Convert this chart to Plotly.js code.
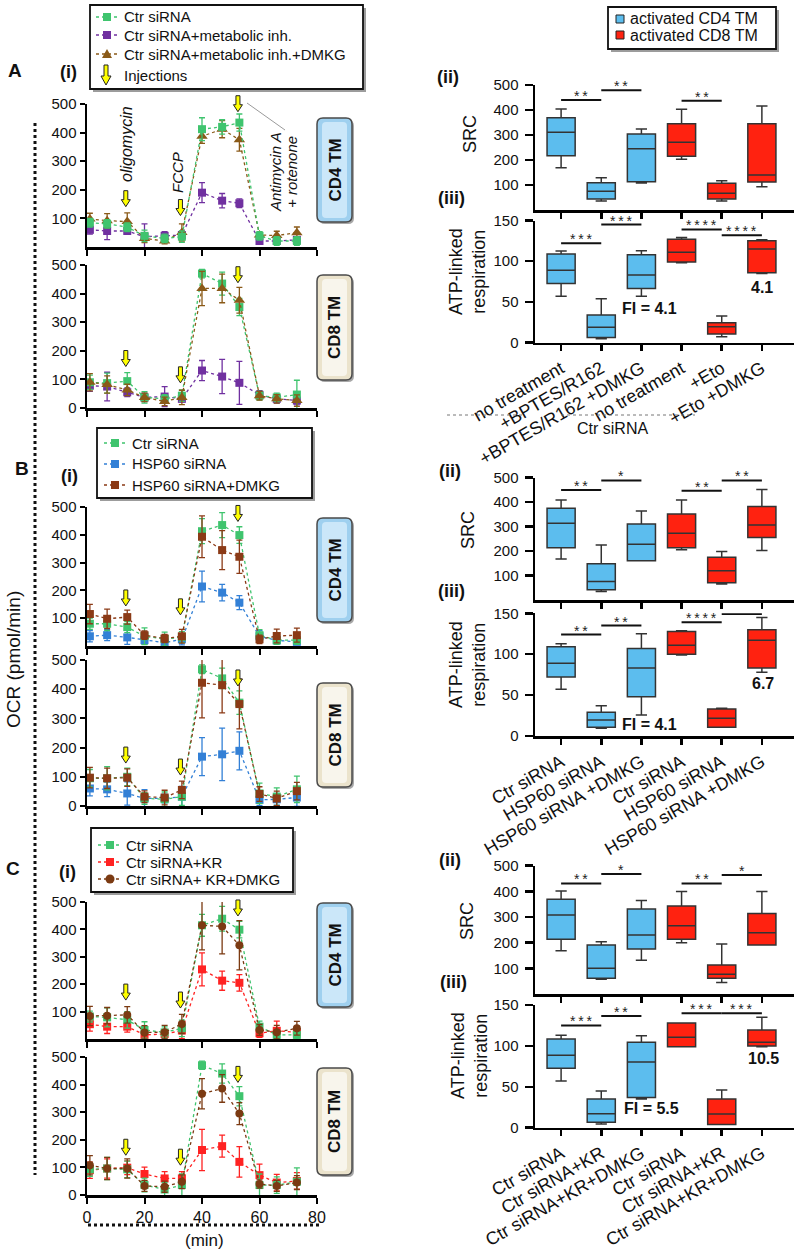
<!DOCTYPE html>
<html><head><meta charset="utf-8">
<script src="https://cdn.plot.ly/plotly-3.0.1.min.js"></script>
<style>html,body{margin:0;padding:0;background:#fff;}#chart{width:794px;height:1250px;}</style>
</head><body><div id="chart"></div>
<script>
// ================= DATA =================
const timeMin = [1, 7, 14, 20, 27, 33, 40, 47, 53, 60, 66, 73];
const injectionTimes = [13.5, 32.5, 52.5];
const injectionLabels = ["oligomycin", "FCCP", "Antimycin A", "+ rotenone"];

// A (i)  CD4 TM
const A_CD4_ctr      = [85, 81, 69, 39, 30, 36, 412, 420, 435, 39, 21, 21];
const A_CD4_ctr_err  = [15, 15, 15, 20, 15, 20, 40, 25, 30, 15, 15, 15];
const A_CD4_inh      = [60, 56, 56, 36, 39, 42, 190, 162, 153, 21, 21, 25];
const A_CD4_inh_err  = [15, 30, 12, 45, 15, 12, 35, 25, 15, 10, 10, 10];
const A_CD4_dmkg     = [98, 92, 89, 30, 21, 51, 387, 412, 375, 42, 40, 50];
const A_CD4_dmkg_err = [20, 25, 30, 15, 10, 30, 25, 30, 40, 10, 15, 20];
// A (i)  CD8 TM
const A_CD8_ctr      = [90, 87, 94, 37, 32, 43, 470, 435, 353, 43, 37, 47];
const A_CD8_ctr_err  = [25, 35, 30, 20, 15, 20, 15, 40, 30, 15, 15, 50];
const A_CD8_inh      = [78, 75, 55, 37, 40, 32, 131, 110, 88, 46, 32, 26];
const A_CD8_inh_err  = [20, 50, 15, 15, 35, 10, 35, 60, 75, 15, 15, 15];
const A_CD8_dmkg     = [90, 82, 63, 37, 23, 37, 418, 418, 377, 43, 32, 26];
const A_CD8_dmkg_err = [30, 30, 20, 15, 15, 25, 60, 50, 45, 15, 15, 20];
// B (i)  CD4 TM
const B_CD4_ctr      = [80, 80, 68, 35, 25, 32, 413, 435, 399, 39, 21, 21];
const B_CD4_ctr_err  = [20, 25, 20, 30, 25, 20, 45, 45, 30, 20, 15, 15];
const B_CD4_hsp      = [35, 39, 31, 21, 12, 24, 214, 192, 156, 35, 20, 15];
const B_CD4_hsp_err  = [20, 20, 25, 15, 10, 20, 55, 30, 25, 20, 10, 10];
const B_CD4_dmkg     = [115, 98, 104, 39, 27, 35, 393, 345, 321, 24, 36, 39];
const B_CD4_dmkg_err = [35, 35, 25, 15, 15, 25, 75, 70, 60, 15, 25, 25];
// B (i)  CD8 TM
const B_CD8_ctr      = [95, 95, 100, 26, 23, 32, 468, 437, 354, 43, 32, 57];
const B_CD8_ctr_err  = [30, 40, 30, 20, 25, 30, 15, 35, 40, 35, 30, 45];
const B_CD8_hsp      = [60, 57, 43, 26, 26, 32, 169, 177, 189, 21, 23, 29];
const B_CD8_hsp_err  = [25, 25, 40, 30, 15, 35, 65, 90, 65, 20, 20, 30];
const B_CD8_dmkg     = [97, 95, 97, 32, 29, 55, 422, 414, 349, 41, 26, 51];
const B_CD8_dmkg_err = [35, 35, 30, 20, 25, 30, 120, 95, 85, 25, 25, 30];
// C (i)  CD4 TM
const C_CD4_ctr      = [82, 79, 70, 33, 24, 39, 415, 439, 399, 45, 15, 15];
const C_CD4_ctr_err  = [20, 35, 30, 30, 20, 30, 40, 45, 30, 20, 15, 15];
const C_CD4_kr       = [54, 45, 45, 15, 18, 31, 254, 213, 205, 21, 30, 24];
const C_CD4_kr_err   = [25, 25, 20, 10, 15, 30, 60, 35, 30, 15, 35, 20];
const C_CD4_dmkg     = [84, 85, 88, 24, 25, 55, 415, 411, 342, 33, 25, 39];
const C_CD4_dmkg_err = [35, 30, 30, 25, 25, 35, 90, 100, 90, 20, 25, 25];
// C (i)  CD8 TM
const C_CD8_ctr      = [93, 96, 93, 36, 20, 36, 470, 440, 358, 36, 36, 48];
const C_CD8_ctr_err  = [25, 40, 30, 25, 25, 40, 15, 35, 35, 40, 30, 50];
const C_CD8_kr       = [90, 96, 99, 76, 60, 60, 163, 177, 120, 72, 45, 51];
const C_CD8_kr_err   = [30, 35, 25, 25, 25, 25, 75, 40, 55, 40, 30, 30];
const C_CD8_dmkg     = [108, 96, 96, 33, 30, 48, 367, 386, 295, 40, 33, 45];
const C_CD8_dmkg_err = [35, 40, 35, 20, 20, 25, 55, 50, 40, 15, 20, 25];

// injection-arrow tip levels (OCR units) per panel
const arrowTips_A_CD4 = [141, 110, 473];
const arrowTips_A_CD8 = [145, 88, 438];
const arrowTips_B_CD4 = [144, 112, 448];
const arrowTips_B_CD8 = [147, 106, 411];
const arrowTips_C_CD4 = [142, 113, 449];
const arrowTips_C_CD8 = [144, 108, 408];

const legendA = ["Ctr siRNA", "Ctr siRNA+metabolic inh.", "Ctr siRNA+metabolic inh.+DMKG", "Injections"];
const legendB = ["Ctr siRNA", "HSP60 siRNA", "HSP60 siRNA+DMKG"];
const legendC = ["Ctr siRNA", "Ctr siRNA+KR", "Ctr siRNA+ KR+DMKG"];
const cellLegend = ["activated CD4 TM", "activated CD8 TM"];

// box plot categories (positions 0..5)
const catsA = ["no treatment", "+BPTES/R162", "+BPTES/R162 +DMKG", "no treatment", "+Eto", "+Eto +DMKG"];
const catsB = ["Ctr siRNA", "HSP60 siRNA", "HSP60 siRNA +DMKG", "Ctr siRNA", "HSP60 siRNA", "HSP60 siRNA +DMKG"];
const catsC = ["Ctr siRNA", "Ctr siRNA+KR", "Ctr siRNA+KR+DMKG", "Ctr siRNA", "Ctr siRNA+KR", "Ctr siRNA+KR+DMKG"];
const posCD4 = [0, 1, 2];
const posCD8 = [3, 4, 5];

// SRC box stats
const A_SRC_CD4 = {lo:[169,36,108], q1:[217,44,113], med:[311,75,245], q3:[369,109,304], hi:[404,129,324]};
const A_SRC_CD8 = {lo:[203,36,93],  q1:[215,44,112], med:[271,67,140], q3:[345,107,345], hi:[403,117,416]};
const B_SRC_CD4 = {lo:[168,35,160], q1:[214,42,160], med:[314,76,228], q3:[375,148,311], hi:[409,225,364]};
const B_SRC_CD8 = {lo:[205,65,202], q1:[214,71,256], med:[273,120,307], q3:[352,175,382], hi:[409,198,452]};
const C_SRC_CD4 = {lo:[169,57,132], q1:[213,61,175], med:[308,100,230], q3:[369,191,331], hi:[401,204,364]};
const C_SRC_CD8 = {lo:[200,45,191], q1:[213,61,191], med:[266,77,239], q3:[343,113,314], hi:[399,195,399]};
// ATP-linked respiration box stats
const A_ATP_CD4 = {lo:[57,5,57],     q1:[72.6,6.5,66.5], med:[89,19,83],     q3:[109,34,108],   hi:[112.6,54,113]};
const A_ATP_CD8 = {lo:[98,7.3,85],   q1:[99,10.6,86],    med:[111,19.6,115], q3:[127,24.5,125], hi:[129,32.7,126.5]};
const B_ATP_CD4 = {lo:[57,9.4,25.7], q1:[72,10.6,48],    med:[89,19.6,83],   q3:[109,29,107],   hi:[112.7,37,125]};
const B_ATP_CD8 = {lo:[99,10.6,78],  q1:[100,10.6,83],   med:[111,21.6,117], q3:[127.8,33,130], hi:[128.6,34,145]};
const C_ATP_CD4 = {lo:[57,4.5,35],   q1:[72.6,6.6,37],   med:[88.5,17,80.3], q3:[108.4,35,104.4], hi:[113,44.8,112.5]};
const C_ATP_CD8 = {lo:[99,4,99],     q1:[99,4,100],      med:[110.5,16.7,104.4], q3:[128,35,119.4], hi:[128,46,135]};

// significance brackets [fromPos, toPos, level, stars]
const sigA_SRC = [[0,1,440,"**"],[1,2,479,"**"],[3,4,437,"**"]];
const sigA_ATP = [[0,1,122,"***"],[1,2,145,"***"],[3,4,139,"****"],[4,5,132,"****"]];
const sigB_SRC = [[0,1,450,"**"],[1,2,489,"*"],[3,4,447,"**"],[4,5,489,"**"]];
const sigB_ATP = [[0,1,124,"**"],[1,2,135,"**"],[3,4,139,"****"],[4,5,149,""]];
const sigC_SRC = [[0,1,431,"**"],[1,2,468,"*"],[3,4,431,"**"],[4,5,464,"*"]];
const sigC_ATP = [[0,1,125,"***"],[1,2,136.5,"**"],[3,4,140,"***"],[4,5,140,"***"]];
// fold-increase labels [pos, level, text]
const fiA = [[2.2, 42, "FI = 4.1"], [5.0, 68, "4.1"]];
const fiB = [[2.2, 13.5, "FI = 4.1"], [5.03, 64, "6.7"]];
const fiC = [[2.25, 23, "FI = 5.5"], [5.03, 84, "10.5"]];

// ================= STYLE / LAYOUT =================
const W = 794, H = 1250;
const fx = p => p / W;
const fy = p => 1 - p / H;
const FONT = 'Liberation Sans, Arial, Helvetica, sans-serif';
const GREEN = '#3fc46e', PURPLE = '#7030a0', BROWN_T = '#8a5a18', BLUE = '#3380d6',
      BROWN_S = '#8b3a16', RED = '#ff2222', BROWN_C = '#7b3a12';
const BOX_BLUE = '#5cbdee', BOX_RED = '#ff2210';

const traces = [], shapes = [], annotations = [];
const layout = {
  width: W, height: H, margin: {l:0, r:0, t:0, b:0, pad:0},
  paper_bgcolor: '#fff', plot_bgcolor: 'rgba(0,0,0,0)', showlegend: false,
  font: {family: FONT, color: '#111'}, shapes, annotations
};
const axId = (l, i) => i === 1 ? l : l + i;
const axName = (l, i) => i === 1 ? l + 'axis' : l + 'axis' + i;

function txt(x, y, text, o) {
  o = o || {};
  annotations.push(Object.assign({
    xref: 'paper', yref: 'paper', x: fx(x), y: fy(y), text: text, showarrow: false,
    xanchor: 'center', yanchor: 'middle',
    font: {family: FONT, size: o.size || 15, color: o.color || '#111', weight: o.weight || 'normal', style: o.style || 'normal'}
  }, o.extra || {}));
}
function pline(x0, y0, x1, y1, color, width, dash) {
  shapes.push({type: 'line', xref: 'paper', yref: 'paper', x0: fx(x0), y0: fy(y0), x1: fx(x1), y1: fy(y1),
    line: {color: color, width: width, dash: dash || 'solid'}, layer: 'above'});
}
function prect(x0, y0, x1, y1, fill, lineColor, lw) {
  shapes.push({type: 'rect', xref: 'paper', yref: 'paper', x0: fx(x0), y0: fy(y0), x1: fx(x1), y1: fy(y1),
    fillcolor: fill, line: {color: lineColor || fill, width: lw || 0}, layer: 'above'});
}
function ppath(pts, fill, lineColor, lw) {
  const d = pts.map((p, k) => (k ? 'L' : 'M') + fx(p[0]) + ',' + fy(p[1])).join(' ') + ' Z';
  shapes.push({type: 'path', xref: 'paper', yref: 'paper', path: d, fillcolor: fill,
    line: {color: lineColor || fill, width: lw || 0}, layer: 'above'});
}
function roundRect(x0, y0, x1, y1, r) {
  const X = fx, Y = fy;
  return `M${X(x0+r)},${Y(y0)} L${X(x1-r)},${Y(y0)} Q${X(x1)},${Y(y0)} ${X(x1)},${Y(y0+r)} ` +
         `L${X(x1)},${Y(y1-r)} Q${X(x1)},${Y(y1)} ${X(x1-r)},${Y(y1)} L${X(x0+r)},${Y(y1)} ` +
         `Q${X(x0)},${Y(y1)} ${X(x0)},${Y(y1-r)} L${X(x0)},${Y(y0+r)} Q${X(x0)},${Y(y0)} ${X(x0+r)},${Y(y0)} Z`;
}
const ARROW_PATH = 'M-2,16 L2,16 L2,7 L4.5,7 L0,0 L-4.5,7 L-2,7 Z';

// ---------- left: OCR kinetics ----------
const stylesA = [{c: GREEN, s: 'square'}, {c: PURPLE, s: 'square'}, {c: BROWN_T, s: 'triangle-up'}];
const stylesB = [{c: GREEN, s: 'square'}, {c: BLUE, s: 'square'}, {c: BROWN_S, s: 'square'}];
const stylesC = [{c: GREEN, s: 'square'}, {c: RED, s: 'square'}, {c: BROWN_C, s: 'circle'}];

const leftPanels = [
  {top: 104, bot: 247, zero: false, xlab: false, tag: 'CD4 TM', cd4: true, tagY: [118, 222], tips: arrowTips_A_CD4, st: stylesA,
   ser: [[A_CD4_ctr, A_CD4_ctr_err], [A_CD4_inh, A_CD4_inh_err], [A_CD4_dmkg, A_CD4_dmkg_err]], order: [1, 2, 0]},
  {top: 265, bot: 408, zero: true, xlab: false, tag: 'CD8 TM', cd4: false, tagY: [275, 380], tips: arrowTips_A_CD8, st: stylesA,
   ser: [[A_CD8_ctr, A_CD8_ctr_err], [A_CD8_inh, A_CD8_inh_err], [A_CD8_dmkg, A_CD8_dmkg_err]], order: [1, 0, 2]},
  {top: 507, bot: 646, zero: false, xlab: false, tag: 'CD4 TM', cd4: true, tagY: [518, 622], tips: arrowTips_B_CD4, st: stylesB,
   ser: [[B_CD4_ctr, B_CD4_ctr_err], [B_CD4_hsp, B_CD4_hsp_err], [B_CD4_dmkg, B_CD4_dmkg_err]], order: [1, 0, 2]},
  {top: 660, bot: 806, zero: true, xlab: false, tag: 'CD8 TM', cd4: false, tagY: [683, 787], tips: arrowTips_B_CD8, st: stylesB,
   ser: [[B_CD8_ctr, B_CD8_ctr_err], [B_CD8_hsp, B_CD8_hsp_err], [B_CD8_dmkg, B_CD8_dmkg_err]], order: [1, 0, 2]},
  {top: 902, bot: 1039, zero: false, xlab: false, tag: 'CD4 TM', cd4: true, tagY: [903, 1007], tips: arrowTips_C_CD4, st: stylesC,
   ser: [[C_CD4_ctr, C_CD4_ctr_err], [C_CD4_kr, C_CD4_kr_err], [C_CD4_dmkg, C_CD4_dmkg_err]], order: [1, 0, 2]},
  {top: 1057, bot: 1195, zero: true, xlab: true, tag: 'CD8 TM', cd4: false, tagY: [1068, 1175], tips: arrowTips_C_CD8, st: stylesC,
   ser: [[C_CD8_ctr, C_CD8_ctr_err], [C_CD8_kr, C_CD8_kr_err], [C_CD8_dmkg, C_CD8_dmkg_err]], order: [1, 0, 2]}
];

leftPanels.forEach((p, k) => {
  const i = k + 1;
  layout[axName('x', i)] = {
    domain: [fx(87), fx(317)], range: [0, 80], anchor: axId('y', i), tickvals: [0, 20, 40, 60, 80],
    ticks: 'outside', ticklen: 6, tickwidth: 2, tickcolor: '#000', showline: true, linewidth: 2.5, linecolor: '#000',
    showgrid: false, zeroline: false, showticklabels: p.xlab, tickfont: {family: FONT, size: 16, color: '#111'},
    fixedrange: true, automargin: false
  };
  layout[axName('y', i)] = {
    domain: [fy(p.bot), fy(p.top)], range: [0, 500], anchor: axId('x', i),
    tickvals: p.zero ? [0, 100, 200, 300, 400, 500] : [100, 200, 300, 400, 500],
    ticks: 'outside', ticklen: 5, tickwidth: 2, tickcolor: '#000', showline: true, linewidth: 2.5, linecolor: '#000',
    showgrid: false, zeroline: false, tickfont: {family: FONT, size: 15, color: '#111'}, fixedrange: true, automargin: false
  };
  p.order.forEach(j => {
    const st = p.st[j];
    traces.push({
      type: 'scatter', mode: 'lines+markers', x: timeMin, y: p.ser[j][0],
      xaxis: axId('x', i), yaxis: axId('y', i),
      line: {color: st.c, width: 1.3, dash: 'dot'},
      marker: {symbol: st.s, size: st.s === 'triangle-up' ? 10 : 8, color: st.c},
      error_y: {type: 'data', array: p.ser[j][1], visible: true, color: st.c, thickness: 1.3, width: 3},
      hoverinfo: 'skip'
    });
  });
  // injection arrows
  injectionTimes.forEach((t, a) => {
    shapes.push({type: 'path', xref: axId('x', i), yref: axId('y', i) + ' domain',
      xsizemode: 'pixel', ysizemode: 'pixel', xanchor: t, yanchor: p.tips[a] / 500,
      path: ARROW_PATH, fillcolor: '#ffff00', line: {color: '#222', width: 1}, layer: 'above'});
  });
  // CD4 / CD8 tag
  const x0 = 317, x1 = 352, y0 = p.tagY[0], y1 = p.tagY[1];
  shapes.push({type: 'path', xref: 'paper', yref: 'paper', path: roundRect(x0 + 2, y0 + 2, x1 + 2, y1 + 2, 6),
    fillcolor: '#a8a8a8', line: {width: 0}, layer: 'above'});
  shapes.push({type: 'path', xref: 'paper', yref: 'paper', path: roundRect(x0, y0, x1, y1, 6),
    fillcolor: p.cd4 ? '#9fd0ef' : '#ebe3cc', line: {color: '#4a4a4a', width: 1.5}, layer: 'above'});
  shapes.push({type: 'path', xref: 'paper', yref: 'paper', path: roundRect(x0 + 5, y0 + 4, x1 - 5, y1 - 4, 4),
    fillcolor: p.cd4 ? '#cbe7f9' : '#f8f5ec', line: {width: 0}, layer: 'above'});
  txt((x0 + x1) / 2, (y0 + y1) / 2, p.tag, {size: 17, weight: 'bold', extra: {textangle: -90}});
});

// ---------- right: box plots ----------
const rightPanels = [
  {top: 85,    bot: 210,    range: [0, 500], ticks: [100, 200, 300, 400, 500], cats: null,  cd4: A_SRC_CD4, cd8: A_SRC_CD8, sig: sigA_SRC},
  {top: 220.5, bot: 342.7,  range: [0, 150], ticks: [0, 50, 100, 150],        cats: catsA, cd4: A_ATP_CD4, cd8: A_ATP_CD8, sig: sigA_ATP, fi: fiA},
  {top: 477.7, bot: 600,    range: [0, 500], ticks: [100, 200, 300, 400, 500], cats: null,  cd4: B_SRC_CD4, cd8: B_SRC_CD8, sig: sigB_SRC},
  {top: 613.3, bot: 736,    range: [0, 150], ticks: [0, 50, 100, 150],        cats: catsB, cd4: B_ATP_CD4, cd8: B_ATP_CD8, sig: sigB_ATP, fi: fiB},
  {top: 865.7, bot: 994,    range: [0, 500], ticks: [100, 200, 300, 400, 500], cats: null,  cd4: C_SRC_CD4, cd8: C_SRC_CD8, sig: sigC_SRC},
  {top: 1005,  bot: 1127.7, range: [0, 150], ticks: [0, 50, 100, 150],        cats: catsC, cd4: C_ATP_CD4, cd8: C_ATP_CD8, sig: sigC_ATP, fi: fiC}
];

rightPanels.forEach((p, k) => {
  const i = k + 7;
  layout[axName('x', i)] = {
    domain: [fx(535), 1], range: [-0.65, 5.8], anchor: axId('y', i),
    tickvals: [0, 1, 2, 3, 4, 5], ticktext: p.cats || ['', '', '', '', '', ''], showticklabels: !!p.cats,
    tickangle: -30, ticks: 'outside', ticklen: 6, tickwidth: 2.5, tickcolor: '#000', showline: true, linewidth: 2.5,
    linecolor: '#000', showgrid: false, zeroline: false, tickfont: {family: FONT, size: 18, color: '#111'},
    fixedrange: true, automargin: false
  };
  layout[axName('y', i)] = {
    domain: [fy(p.bot), fy(p.top)], range: p.range, anchor: axId('x', i), tickvals: p.ticks,
    ticks: 'outside', ticklen: 8, tickwidth: 2.5, tickcolor: '#000', showline: true, linewidth: 2.5, linecolor: '#000',
    showgrid: false, zeroline: false, tickfont: {family: FONT, size: 15, color: '#111'}, ticklabelstandoff: 3,
    fixedrange: true, automargin: false
  };
  [[p.cd4, posCD4, BOX_BLUE], [p.cd8, posCD8, BOX_RED]].forEach(([s, pos, col]) => {
    traces.push({
      type: 'box', x: pos, q1: s.q1, median: s.med, q3: s.q3, lowerfence: s.lo, upperfence: s.hi,
      xaxis: axId('x', i), yaxis: axId('y', i), width: 0.7, whiskerwidth: 0.4,
      fillcolor: col, line: {color: '#333', width: 1.5}, boxpoints: false, hoverinfo: 'skip'
    });
  });
  p.sig.forEach(([a, b, lv, st]) => {
    shapes.push({type: 'line', xref: axId('x', i), yref: axId('y', i), x0: a, x1: b, y0: lv, y1: lv,
      line: {color: '#111', width: 2}, layer: 'above'});
    if (st) annotations.push({xref: axId('x', i), yref: axId('y', i), x: (a + b) / 2, y: lv, text: st.split('').join('\u2009'),
      showarrow: false, xanchor: 'center', yanchor: 'bottom', yshift: -6,
      font: {family: FONT, size: 14, color: '#222'}});
  });
  (p.fi || []).forEach(([x, y, t]) => {
    annotations.push({xref: axId('x', i), yref: axId('y', i), x: x, y: y, text: t, showarrow: false,
      xanchor: 'center', yanchor: 'middle', font: {family: FONT, size: 16, color: '#111', weight: 'bold'}});
  });
});

// axis titles & panel labels (right)
txt(470, 134, 'SRC', {size: 18, extra: {textangle: -90}});
txt(468, 530, 'SRC', {size: 18, extra: {textangle: -90}});
txt(467, 921, 'SRC', {size: 18, extra: {textangle: -90}});
txt(467, 272, 'ATP-linked<br>respiration', {size: 18, extra: {textangle: -90}});
txt(467, 665, 'ATP-linked<br>respiration', {size: 18, extra: {textangle: -90}});
txt(469, 1055, 'ATP-linked<br>respiration', {size: 18, extra: {textangle: -90}});
txt(448, 77, '(ii)', {size: 18, weight: 'bold'});
txt(451, 198, '(iii)', {size: 18, weight: 'bold'});
txt(450, 471, '(ii)', {size: 18, weight: 'bold'});
txt(452, 591, '(iii)', {size: 18, weight: 'bold'});
txt(450, 860, '(ii)', {size: 18, weight: 'bold'});
txt(453, 982, '(iii)', {size: 18, weight: 'bold'});

// group label under A
pline(447, 415, 523, 415, '#777', 1, 'dot');
pline(561, 415, 695, 415, '#777', 1, 'dot');
txt(612, 428, 'Ctr siRNA', {size: 16});

// left panel letters
txt(15, 71, 'A', {size: 19, weight: 'bold'});
txt(68, 72, '(i)', {size: 18, weight: 'bold'});
txt(22, 468, 'B', {size: 19, weight: 'bold'});
txt(69, 476, '(i)', {size: 18, weight: 'bold'});
txt(13, 868, 'C', {size: 19, weight: 'bold'});
txt(67, 872, '(i)', {size: 18, weight: 'bold'});

// injection labels in A (i)
txt(127, 144, injectionLabels[0], {size: 16, style: 'italic', extra: {textangle: -90}});
txt(178, 173, injectionLabels[1], {size: 15, style: 'italic', extra: {textangle: -90}});
txt(276, 172, injectionLabels[2], {size: 15, style: 'italic', extra: {textangle: -90}});
txt(292, 172, injectionLabels[3], {size: 15, style: 'italic', extra: {textangle: -90}});
pline(247, 103, 285, 130, '#9a9a9a', 1);

// OCR axis title, dotted guides, (min)
txt(13, 660, 'OCR (pmol/min)', {size: 19, extra: {textangle: -90}});
pline(35, 123, 35, 1175, '#111', 3, 'dot');
pline(88, 1225, 322, 1225, '#111', 3, 'dot');
txt(204, 1240, '(min)', {size: 17});

// ---------- legends (drawn boxes) ----------
function legendFrame(x0, y0, x1, y1) {
  prect(x0 + 3, y0 + 3, x1 + 3, y1 + 3, '#9c9c9c');
  prect(x0, y0, x1, y1, '#ffffff', '#111', 1.8);
}
function legendMarker(sym, x, y, col) {
  if (sym === 'square') prect(x - 4, y - 4, x + 4, y + 4, col);
  else if (sym === 'circle') shapes.push({type: 'circle', xref: 'paper', yref: 'paper', x0: fx(x - 4.5), x1: fx(x + 4.5),
    y0: fy(y + 4.5), y1: fy(y - 4.5), fillcolor: col, line: {width: 0}, layer: 'above'});
  else ppath([[x, y - 5], [x + 5, y + 4], [x - 5, y + 4]], col);
}
function legendEntries(names, styles, ys, lx0, lx1, mx, tx) {
  names.forEach((n, k) => {
    if (k < styles.length) {
      pline(lx0, ys[k], lx1, ys[k], styles[k].c, 1.3, 'dot');
      legendMarker(styles[k].s, mx, ys[k], styles[k].c);
    }
    txt(tx, ys[k], n, {size: 15, extra: {xanchor: 'left'}});
  });
}
legendFrame(90, 5, 363, 89);
legendEntries(legendA, stylesA, [17, 35, 54, 75], 96, 119, 107, 122);
ppath([[104, 65], [108, 65], [108, 76], [111, 76], [106, 85], [101, 76], [104, 76]], '#ffff00', '#222', 1);

legendFrame(97, 428, 312, 498);
legendEntries(legendB, stylesB, [443, 464, 485], 104, 127, 115, 130);

legendFrame(91, 828, 293, 892);
legendEntries(legendC, stylesC, [845, 862, 879], 98, 121, 110, 124);

legendFrame(608, 7, 776, 49);
[[BOX_BLUE, 19], [BOX_RED, 35]].forEach(([c, y], k) => {
  prect(616, y - 4, 624, y + 4, c, '#222', 1);
  txt(628, y, cellLegend[k], {size: 16, extra: {xanchor: 'left'}});
});

Plotly.newPlot('chart', traces, layout, {staticPlot: true, displayModeBar: false});
</script>
</body></html>
